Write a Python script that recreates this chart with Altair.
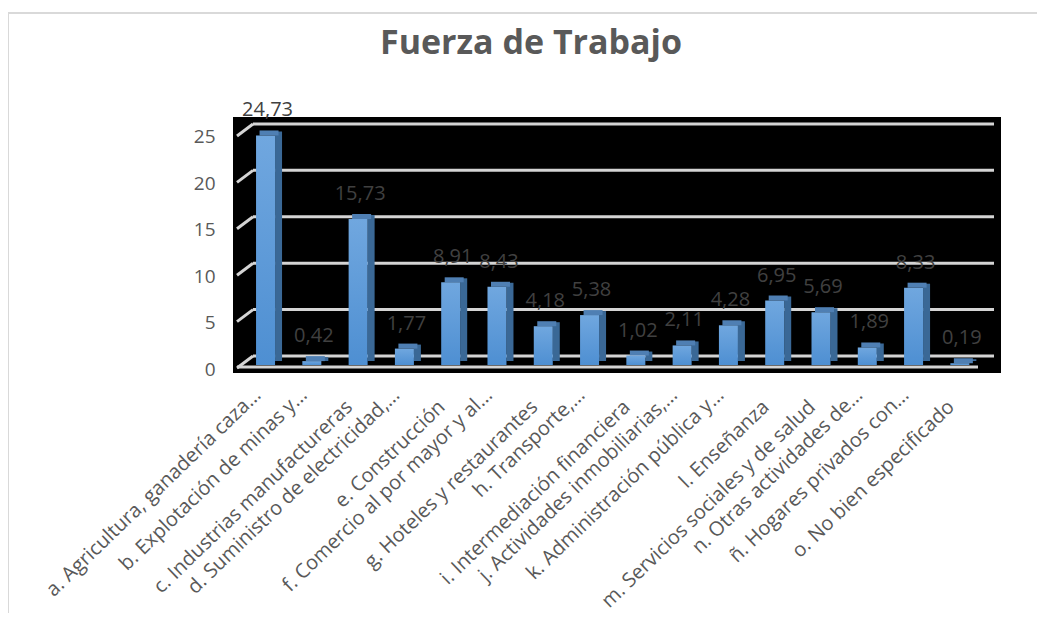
import altair as alt
import pandas as pd

categories = [
    "a. Agricultura, ganadería caza…",
    "b. Explotación de minas y…",
    "c. Industrias manufactureras",
    "d. Suministro de electricidad,…",
    "e. Construcción",
    "f. Comercio al por mayor y al…",
    "g. Hoteles y restaurantes",
    "h. Transporte,…",
    "i. Intermediación financiera",
    "j. Actividades inmobiliarias,…",
    "k. Administración pública y…",
    "l. Enseñanza",
    "m. Servicios sociales y de salud",
    "n. Otras actividades de…",
    "ñ. Hogares privados con…",
    "o. No bien especificado",
]
values = [24.73, 0.42, 15.73, 1.77, 8.91, 8.43, 4.18, 5.38, 1.02, 2.11, 4.28, 6.95, 5.69, 1.89, 8.33, 0.19]
grid_values = [0, 5, 10, 15, 20, 25]
title_text = "Fuerza de Trabajo"

df = pd.DataFrame({"cat": categories, "val": values})
grid_df = pd.DataFrame({"g": grid_values})

W, H = 768, 256
FONT = "Open Sans"
y_scale = alt.Scale(domain=[-1.83, 25.75], nice=False, zero=False)
x_scale = alt.Scale(domain=categories, range=[9.4, 750], paddingInner=0, paddingOuter=0)

y_axis = alt.Axis(values=grid_values, title=None, grid=False, domain=False, ticks=False,
                  labelFont=FONT, labelFontSize=19, labelColor="#595959",
                  labelPadding=18, labelOffset=13)

base = alt.Chart(df)

# outer frame of the chart and title
one = alt.Data(values=[{"k": 1}])
frame = alt.Chart(one).mark_rect(
    fill="white", fillOpacity=0, stroke="#D9D9D9", strokeWidth=2
).encode(x=alt.value(-225), x2=alt.value(820), y=alt.value(-104), y2=alt.value(520))

title = alt.Chart(one).mark_text(
    text=title_text, font=FONT, fontSize=34, fontWeight="bold", color="#595959",
    align="center", baseline="alphabetic"
).encode(x=alt.value(298), y=alt.value(-63))

grid = alt.Chart(grid_df).mark_rule(color="#D4D4D4", strokeWidth=3).encode(
    y=alt.Y("g:Q", scale=y_scale, axis=y_axis),
    x=alt.value(20), x2=alt.value(761),
)

stubs = alt.Chart(grid_df).mark_rule(color="#D4D4D4", strokeWidth=3, yOffset=12, y2Offset=0).encode(
    y=alt.Y("g:Q", scale=y_scale, axis=y_axis), y2="g:Q",
    x=alt.value(4), x2=alt.value(20),
)

floor = alt.Chart(alt.Data(values=[{"z": 0}])).mark_rule(color="#D4D4D4", strokeWidth=3, yOffset=11).encode(
    y=alt.Y("z:Q", scale=y_scale, axis=y_axis),
    x=alt.value(4), x2=alt.value(745),
)

X = alt.X("cat:N", scale=x_scale, sort=categories, axis=None)
Y = alt.Y("val:Q", scale=y_scale, axis=y_axis)

side = base.mark_bar(size=7, xOffset=13, yOffset=5, y2Offset=5, color="#3A6896").encode(
    x=X, y=Y, y2=alt.datum(0),
)

top = base.mark_bar(size=19, xOffset=3.5, yOffset=4, y2Offset=9, color="#4F7FB3").encode(
    x=X, y=Y, y2="val:Q",
)

front = base.mark_bar(
    size=19, yOffset=9, y2Offset=9,
    color=alt.Gradient(gradient="linear", x1=0, y1=0, x2=0, y2=1,
                       stops=[alt.GradientStop(color="#70A7DF", offset=0),
                              alt.GradientStop(color="#4E8FD2", offset=1)]),
).encode(x=X, y=Y, y2=alt.datum(0))

labels = base.transform_calculate(
    lbl="replace(format(datum.val, '.2f'), '.', ',')"
).mark_text(font=FONT, fontSize=20, color="#404040", baseline="alphabetic", dy=-10, dx=2).encode(
    x=X, y=Y, text="lbl:N",
)

# category labels along the bottom, rotated
cat_style = dict(font=FONT, fontSize=20, color="#595959", angle=316, align="right", baseline="top")
cat_plain = base.transform_filter("indexof(datum.cat, '…') < 0").mark_text(
    dx=-14, dy=-8, **cat_style
).encode(x=X, y=alt.value(276), text="cat:N")
cat_ellip = base.transform_filter("indexof(datum.cat, '…') >= 0").mark_text(
    dx=-5, dy=-16, **cat_style
).encode(x=X, y=alt.value(276), text="cat:N")

chart = alt.layer(frame, title, grid, stubs, floor, side, top, front, labels,
                  cat_plain, cat_ellip).properties(
    width=W, height=H,
    padding={"left": 225, "top": 109, "right": 36, "bottom": 240},
    autosize=alt.AutoSizeParams(type="none"),
).configure_view(fill="#000000", strokeWidth=0)

chart.save("out.html", embed_options={"renderer": "svg", "actions": False})
